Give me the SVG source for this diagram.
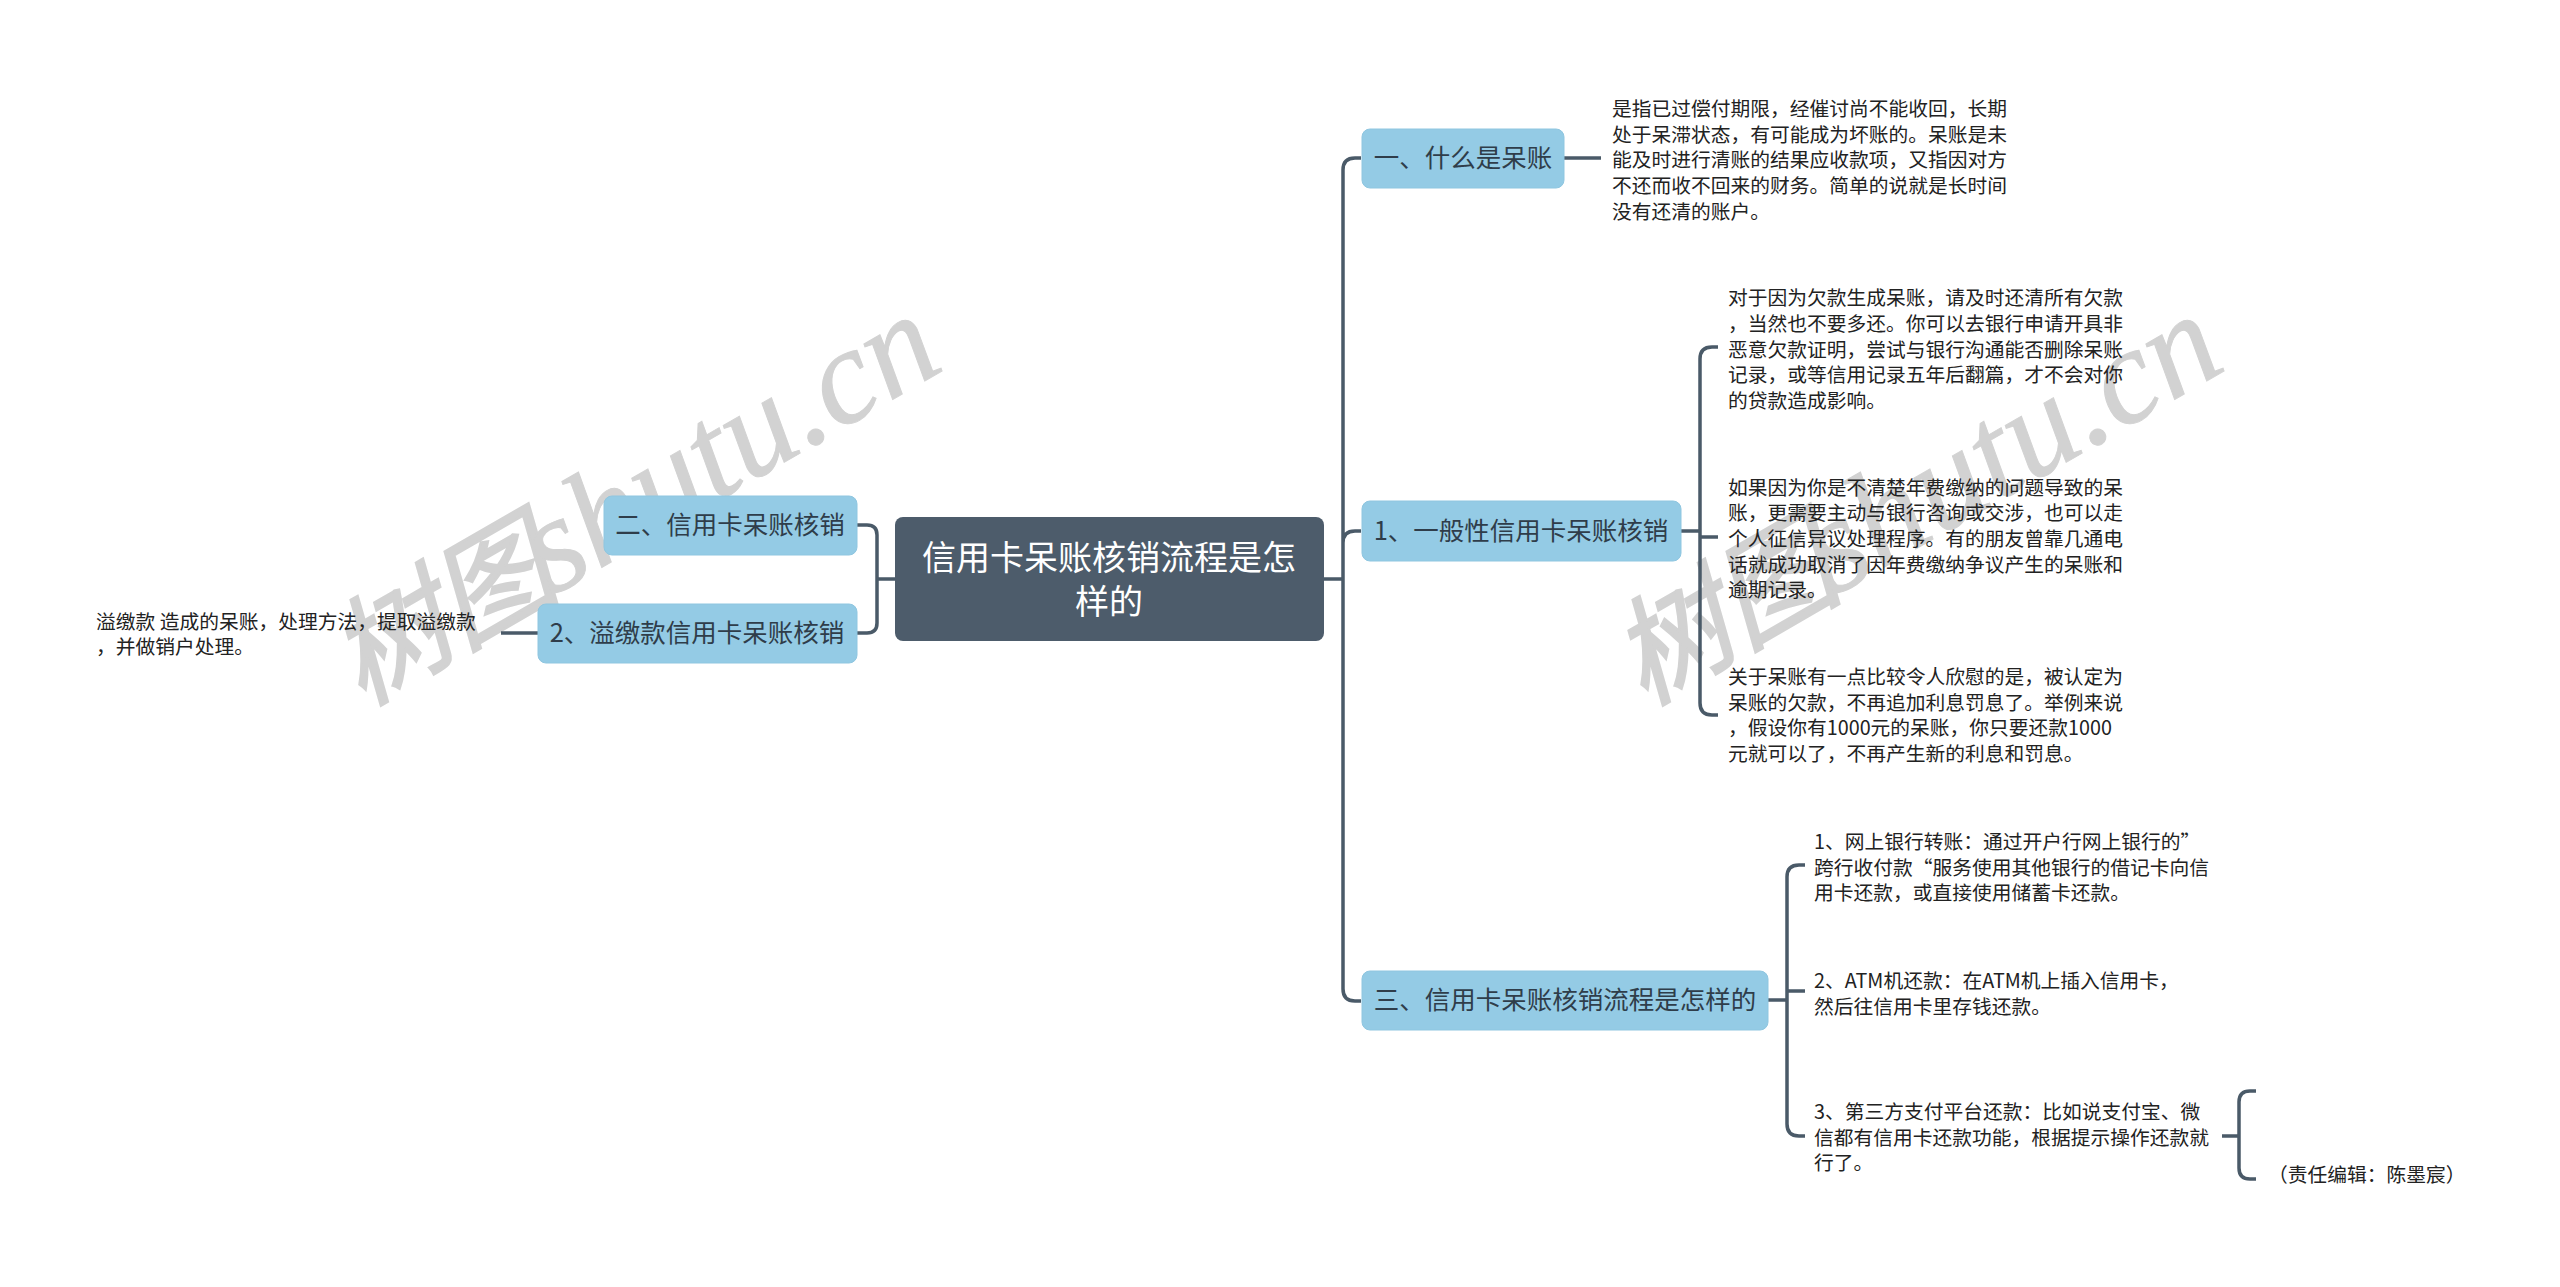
<svg xmlns="http://www.w3.org/2000/svg" width="2560" height="1287" viewBox="0 0 2560 1287">
<style>
text{font-family:"Noto Sans CJK SC","Noto Sans",sans-serif}
.wm{font-family:"Liberation Serif","Noto Sans CJK SC",serif;font-style:italic;fill:#d2d2d2;stroke:#d2d2d2;stroke-width:1}
.wc{font-size:116px;stroke-width:2.5}
.wl{font-size:136px}
.n{fill:#94cbe5;stroke:#8fc6e0;stroke-width:1}
.nt{font-size:25.5px;fill:#2f3d4a;text-anchor:middle}
.t{font-size:19.75px;fill:#222}
.c{fill:none;stroke:#4a5a68;stroke-width:3.5}
</style>
<rect width="2560" height="1287" fill="#fff"/>
<g id="watermarks">
<text class="wm" transform="translate(362 706) rotate(-30)"><tspan class="wc" x="0">树图</tspan><tspan class="wl" x="219">shutu.cn</tspan></text>
<text class="wm" transform="translate(1644 706) rotate(-30)"><tspan class="wc" x="0">树图</tspan><tspan class="wl" x="219">shutu.cn</tspan></text>
</g>
<g id="connectors">
<path class="c" d="M857 525H867Q877 525 877 535V623Q877 633 867 633H857M877 579H895"/>
<path class="c" d="M538 633H501"/>
<path class="c" d="M1361 158H1355Q1343 158 1343 170V989Q1343 1001 1355 1001H1361M1343 543Q1343 531 1355 531H1361M1324 579H1343"/>
<path class="c" d="M1564 158H1601"/>
<path class="c" d="M1681 531H1700M1718 347H1712Q1700 347 1700 359V703Q1700 715 1712 715H1718M1700 537H1718"/>
<path class="c" d="M1767 1000H1787M1805 865H1799Q1787 865 1787 877V1124Q1787 1136 1799 1136H1805M1787 991H1805"/>
<path class="c" d="M2222 1136H2239M2256 1091H2250Q2239 1091 2239 1102V1168Q2239 1179 2250 1179H2256"/>
</g>
<g id="center"><rect x="895" y="517" width="429" height="124" rx="8" fill="#4d5c6b"/>
<text x="1109" y="570" font-size="34" fill="#fff" text-anchor="middle">信用卡呆账核销流程是怎</text>
<text x="1109" y="614" font-size="34" fill="#fff" text-anchor="middle">样的</text></g>
<g id="n-er"><rect class="n" x="604" y="496" width="253" height="59" rx="8"/><text class="nt" x="730" y="534">二、信用卡呆账核销</text></g>
<g id="n-2"><rect class="n" x="538" y="604" width="319" height="59" rx="8"/><text class="nt" x="697" y="642">2、溢缴款信用卡呆账核销</text></g>
<g id="t-left"><text class="t" x="96" y="629">溢缴款 造成的呆账，处理方法，提取溢缴款</text><text class="t" x="96" y="654">，并做销户处理。</text></g>
<g id="n-yi"><rect class="n" x="1362" y="129" width="202" height="59" rx="8"/><text class="nt" x="1463" y="167">一、什么是呆账</text></g>
<g id="t-yi"><text class="t" x="1612" y="116">是指已过偿付期限，经催讨尚不能收回，长期</text><text class="t" x="1612" y="142">处于呆滞状态，有可能成为坏账的。呆账是未</text><text class="t" x="1612" y="167">能及时进行清账的结果应收款项，又指因对方</text><text class="t" x="1612" y="193">不还而收不回来的财务。简单的说就是长时间</text><text class="t" x="1612" y="219">没有还清的账户。</text></g>
<g id="n-1"><rect class="n" x="1362" y="501" width="319" height="60" rx="8"/><text class="nt" x="1521" y="540">1、一般性信用卡呆账核销</text></g>
<g id="t-a"><text class="t" x="1728" y="305">对于因为欠款生成呆账，请及时还清所有欠款</text><text class="t" x="1728" y="331">，当然也不要多还。你可以去银行申请开具非</text><text class="t" x="1728" y="357">恶意欠款证明，尝试与银行沟通能否删除呆账</text><text class="t" x="1728" y="382">记录，或等信用记录五年后翻篇，才不会对你</text><text class="t" x="1728" y="408">的贷款造成影响。</text></g>
<g id="t-b"><text class="t" x="1728" y="495">如果因为你是不清楚年费缴纳的问题导致的呆</text><text class="t" x="1728" y="520">账，更需要主动与银行咨询或交涉，也可以走</text><text class="t" x="1728" y="546">个人征信异议处理程序。有的朋友曾靠几通电</text><text class="t" x="1728" y="572">话就成功取消了因年费缴纳争议产生的呆账和</text><text class="t" x="1728" y="597">逾期记录。</text></g>
<g id="t-c"><text class="t" x="1728" y="684">关于呆账有一点比较令人欣慰的是，被认定为</text><text class="t" x="1728" y="710">呆账的欠款，不再追加利息罚息了。举例来说</text><text class="t" x="1728" y="735">，假设你有1000元的呆账，你只要还款1000</text><text class="t" x="1728" y="761">元就可以了，不再产生新的利息和罚息。</text></g>
<g id="n-san"><rect class="n" x="1362" y="971" width="406" height="59" rx="8"/><text class="nt" x="1565" y="1009">三、信用卡呆账核销流程是怎样的</text></g>
<g id="t-d"><text class="t" x="1814" y="849">1、网上银行转账：通过开户行网上银行的”</text><text class="t" x="1814" y="875">跨行收付款“服务使用其他银行的借记卡向信</text><text class="t" x="1814" y="900">用卡还款，或直接使用储蓄卡还款。</text></g>
<g id="t-e"><text class="t" x="1814" y="988">2、ATM机还款：在ATM机上插入信用卡，</text><text class="t" x="1814" y="1014">然后往信用卡里存钱还款。</text></g>
<g id="t-f"><text class="t" x="1814" y="1119">3、第三方支付平台还款：比如说支付宝、微</text><text class="t" x="1814" y="1145">信都有信用卡还款功能，根据提示操作还款就</text><text class="t" x="1814" y="1170">行了。</text></g>
<g id="t-g"><text class="t" x="2268" y="1182">（责任编辑：陈墨宸）</text></g>
</svg>
